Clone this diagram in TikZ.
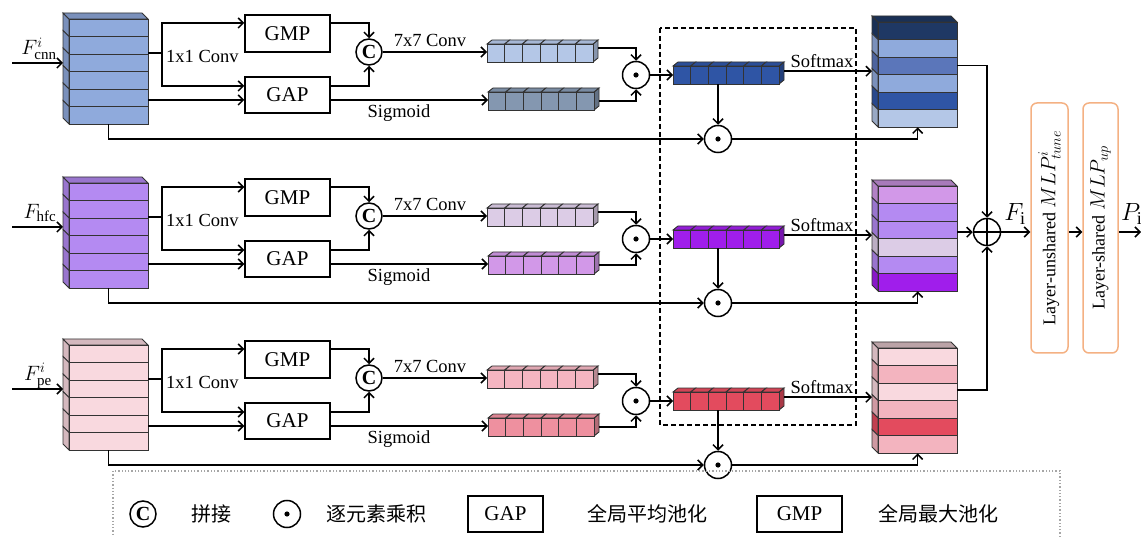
\documentclass[tikz,border=0pt]{standalone}
\usepackage{fontspec}
\setmainfont{Liberation Serif}
\newfontfamily\cjk{Noto Sans CJK SC}
\usetikzlibrary{arrows.meta,calc}
\DeclareMathSizes{18}{21}{15}{11}
\DeclareMathSizes{20}{20}{15}{11}
\DeclareMathSizes{25}{25}{18}{13}

\definecolor{edgec}{HTML}{333333}
\definecolor{c1in}{HTML}{8FAADC}
\definecolor{c1b1}{HTML}{B4C7E7}
\definecolor{c1b2}{HTML}{8497B0}
\definecolor{c1w}{HTML}{2F55A5}
\definecolor{c1o1}{HTML}{1F3864}
\definecolor{c1o3}{HTML}{5B76BA}
\definecolor{c2in}{HTML}{B48AF2}
\definecolor{c2b1}{HTML}{DCCCE6}
\definecolor{c2b2}{HTML}{D298E8}
\definecolor{c2w}{HTML}{A01EEB}
\definecolor{c3in}{HTML}{F9D9DF}
\definecolor{c3b1}{HTML}{F4B5C1}
\definecolor{c3b2}{HTML}{EE909F}
\definecolor{c3w}{HTML}{E34B5E}
\definecolor{c3o2}{HTML}{F3B4BF}
\definecolor{mlpc}{HTML}{F4B183}

\tikzset{
 arr/.style={line width=1.5pt, -{Straight Barb[length=5pt,width=10pt]}},
 ln/.style={line width=1.5pt},
 opbox/.style={draw, line width=1.5pt, minimum width=85pt, minimum height=37pt, inner sep=0pt, font=\fontsize{21}{24}\selectfont},
 odot/.style={circle, draw, line width=1.5pt, minimum size=27pt, inner sep=0pt, path picture={\fill (path picture bounding box.center) circle (2.6pt);}},
 oplus/.style={circle, draw, line width=1.5pt, minimum size=27pt, inner sep=0pt, path picture={\draw[line width=1.5pt] (path picture bounding box.north) -- (path picture bounding box.south) (path picture bounding box.west) -- (path picture bounding box.east);}},
 ccat/.style={circle, draw, line width=1.5pt, minimum size=26pt, inner sep=0pt, font=\fontsize{20}{20}\bfseries\selectfont},
 lbl/.style={font=\fontsize{18.5}{20}\selectfont, inner sep=0pt},
 mlp/.style={draw=mlpc, line width=1.5pt, rounded corners=6pt, minimum width=37pt, minimum height=250pt, inner sep=0pt},
 mlptext/.style={rotate=90, font=\fontsize{18}{20}\selectfont, inner sep=0pt},
 leg/.style={font=\cjk\fontsize{20}{22}\selectfont, inner sep=0pt},
 flab/.style={font=\fontsize{20}{22}\selectfont, inner sep=0pt},
 face/.style={draw=edgec, line width=0.9pt},
}

% name, x, y (front top-left), colour list, top colour
\newcommand\featstack[5]{%
 \node[inner sep=0pt, minimum width=79pt, minimum height=105pt, anchor=north west] (#1) at (#2,#3) {};
 \foreach \c [count=\i from 0] in {#4} {
   \filldraw[face, fill=\c!85!black] ({#2},{#3+\i*17.5}) -- ({#2-6},{#3+\i*17.5-6}) -- ({#2-6},{#3+\i*17.5+11.5}) -- ({#2},{#3+\i*17.5+17.5}) -- cycle;
   \filldraw[face, fill=\c] ({#2},{#3+\i*17.5}) rectangle ({#2+79},{#3+\i*17.5+17.5});
 }
 \filldraw[face, fill=#5] ({#2},{#3}) -- ({#2-6},{#3-6}) -- ({#2+73},{#3-6}) -- ({#2+79},{#3}) -- cycle;
}

% name, x, y (front top-left), colour
\newcommand\convbar[4]{%
 \node[inner sep=0pt, minimum width=106pt, minimum height=18pt, anchor=north west] (#1) at (#2,#3) {};
 \filldraw[face, fill=#4!75!black] ({#2+106},{#3}) -- ({#2+111},{#3-4}) -- ({#2+111},{#3+14}) -- ({#2+106},{#3+18}) -- cycle;
 \foreach \i in {0,...,5} {
   \filldraw[face, fill=#4!92!black] ({#2+\i*17.667},{#3}) -- ({#2+\i*17.667+5},{#3-4}) -- ({#2+\i*17.667+22.667},{#3-4}) -- ({#2+\i*17.667+17.667},{#3}) -- cycle;
   \filldraw[face, fill=#4] ({#2+\i*17.667},{#3}) rectangle ++(17.667,18);
 }
}

% row id, y offset, out colour list, out top colour
\newcommand\rowblock[4]{%
 \featstack{in#1}{69}{19+#2}{c#1in,c#1in,c#1in,c#1in,c#1in,c#1in}{c#1in!85!black}
 \node[opbox] (gmp#1) at (287.5,33.5+#2) {GMP};
 \node[opbox, minimum height=36pt] (gap#1) at (287.5,95+#2) {GAP};
 \node[ccat] (cat#1) at (369,52+#2) {C};
 \convbar{ba#1}{487}{44+#2}{c#1b1}
 \convbar{bb#1}{488}{92+#2}{c#1b2}
 \node[odot] (da#1) at (636,75+#2) {};
 \convbar{w#1}{673}{66+#2}{c#1w}
 \node[odot] (db#1) at (718,139+#2) {};
 \featstack{out#1}{878}{22+#2}{#3}{#4}
 \coordinate (src#1) at (12,63+#2);
 \coordinate (br#1) at (162,53+#2);
 \coordinate (gi#1) at ([yshift=-5pt]gap#1.west);
 \coordinate (go#1) at ([yshift=-5pt]gap#1.east);
 \coordinate (wo#1) at ([xshift=5pt,yshift=4pt]w#1.east);
 \draw[arr, shorten >=6pt] (src#1) -- (src#1 -| in#1.west);
 \draw[ln] (br#1 -| in#1.east) -- (br#1);
 \draw[arr] (br#1) |- ([yshift=10.5pt]gmp#1.west);
 \draw[arr] (br#1) |- ([yshift=9pt]gap#1.west);
 \draw[arr] (gi#1 -| in#1.east) -- (gi#1);
 \draw[arr] ([yshift=10.5pt]gmp#1.east) -| (cat#1.north);
 \draw[arr] ([yshift=9pt]gap#1.east) -| (cat#1.south);
 \draw[arr] (cat#1.east) -- (cat#1.east -| ba#1.west);
 \draw[arr] (go#1) -- (go#1 -| bb#1.west);
 \draw[arr] ([xshift=5pt,yshift=5pt]ba#1.east) -| (da#1.north);
 \draw[arr] ([xshift=5pt]bb#1.east) -| (da#1.south);
 \draw[arr] (da#1.east) -- (da#1.east -| w#1.west);
 \draw[arr] (w#1.south -| db#1) -- (db#1.north);
 \draw[arr, shorten >=6pt] (wo#1) -- (wo#1 -| out#1.west);
 \draw[arr] (in#1.south) |- (db#1.west);
 \draw[arr] (db#1.east) -| (out#1.south);
 \node[lbl, anchor=west] (l1x#1) at (166,56+#2) {1x1 Conv};
 \node[lbl] (l7x#1) at (430,40+#2) {7x7 Conv};
 \node[lbl] (lsg#1) at (399,113+#2) {Sigmoid};
 \node[lbl] (lsm#1) at (822,61+#2) {Softmax};
}

\begin{document}
\begin{tikzpicture}[x=1pt,y=-1pt]
\useasboundingbox (0,0) rectangle (1141,537);
\clip (0,0) rectangle (1141,537);

\rowblock{1}{0}{c1o1,c1in,c1o3,c1in,c1w,c1b1}{c1o1!85!black}
\rowblock{2}{164}{c2b2,c2in,c2in,c2b1,c2in,c2w}{c2b2!80!black}
\rowblock{3}{326}{c3in,c3o2,c3in,c3o2,c3w,c3o2}{c3in!75!black}

\node[flab] (f1) at (39,49) {$F^{i}_{\mathrm{cnn}}$};
\node[flab] (f2) at (40,213) {$F_{\mathrm{hfc}}$};
\node[flab] (f3) at (38,376) {$F^{i}_{\mathrm{pe}}$};

% dashed region
\draw[line width=1.5pt, dash pattern=on 5pt off 3pt] (660,28) rectangle (856,425);

% fusion
\node[oplus] (plus) at (987,232) {};
\draw[arr] ([yshift=9pt]out1.east) -| (plus.north);
\coordinate (o2e) at ([yshift=6.5pt]out2.east);
\draw[arr] (o2e) -- (o2e -| plus.west);
\draw[arr] ([yshift=10.5pt]out3.east) -| (plus.south);

\node[mlp] (mlp1) at (1049.5,228) {};
\node[mlp, minimum width=35pt] (mlp2) at (1100.5,228) {};
\node[mlptext] (t1) at (mlp1) {Layer-unshared $MLP^{i}_{tune}$};
\node[mlptext] (t2) at (mlp2) {Layer-shared $MLP_{up}$};
\draw[arr] (plus.east) -- (plus.east -| mlp1.west);
\draw[arr] (plus -| mlp1.east) -- (plus -| mlp2.west);
\coordinate (pend) at (1141,232);
\draw[arr] (plus -| mlp2.east) -- (pend);
\node[font=\fontsize{25}{26}\selectfont, inner sep=0pt] (fi) at (1015,214) {$F_{\mathrm{i}}$};
\node[font=\fontsize{25}{26}\selectfont, inner sep=0pt, anchor=west] (pi) at (1121,214) {$P_{\mathrm{i}}$};

% legend
\draw[gray!70, dotted, line width=1.3pt] (113,471) rectangle (1060,575);
\node[ccat] (lc) at (143,514) {C};
\node[leg] (lt1) at (211,514) {拼接};
\node[odot] (ld) at (287,514) {};
\node[leg] (lt2) at (376,514) {逐元素乘积};
\node[opbox, minimum width=75pt, minimum height=36pt] (lg1) at (505.5,514) {GAP};
\node[leg] (lt3) at (647,514) {全局平均池化};
\node[opbox, minimum height=36pt] (lg2) at (799.5,514) {GMP};
\node[leg] (lt4) at (938,514) {全局最大池化};
\end{tikzpicture}
\end{document}
